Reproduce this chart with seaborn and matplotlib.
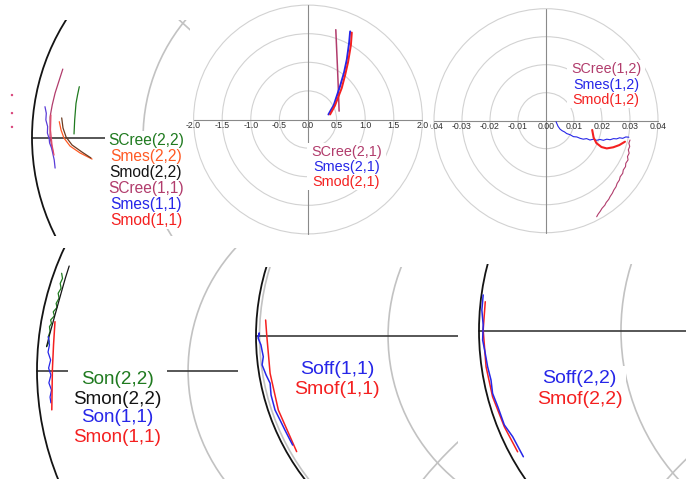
import matplotlib
matplotlib.use("Agg")
import matplotlib.pyplot as plt
from matplotlib.patches import Circle, Rectangle
import seaborn as sns

sns.set_style("white")
plt.rcParams["font.family"] = ["Liberation Sans", "DejaVu Sans"]

W, H = 686, 479

GREEN = "#1f7a1f"
ORANGE = "#ff5a24"
BLACK = "#141414"
MAROON = "#b13c6c"
BLUE = "#2626e8"
RED = "#f42020"
PINK = "#d9457a"
GRID = "#c2c2c2"
RING = "#d2d2d2"
AXIS = "#8a8a8a"

# ---------------- data (real / imaginary part of the S parameters) ----------------
# top left: S11, S22
scree22_re = [-0.785, -0.793, -0.800, -0.806, -0.809]
scree22_im = [0.231, 0.193, 0.155, 0.080, 0.016]
smes22_re = [-0.876, -0.868, -0.855, -0.827, -0.782, -0.727]
smes22_im = [0.072, 0.034, -0.002, -0.039, -0.070, -0.098]
smod22_re = [-0.865, -0.859, -0.845, -0.818, -0.773, -0.732]
smod22_im = [0.089, 0.043, 0.002, -0.034, -0.066, -0.093]
scree11_re = [-0.860, -0.878, -0.895, -0.908, -0.918, -0.918, -0.905]
scree11_im = [0.311, 0.255, 0.202, 0.148, 0.093, 0.002, -0.066]
smes11_re = [-0.941, -0.935, -0.937, -0.929, -0.930, -0.922, -0.920, -0.911, -0.906, -0.899, -0.895]
smes11_im = [0.140, 0.110, 0.080, 0.050, 0.020, -0.005, -0.025, -0.048, -0.070, -0.102, -0.139]
smod11_re = [-0.914, -0.916, -0.909, -0.900]
smod11_im = [0.102, 0.034, -0.034, -0.080]
stray_re = [-1.091, -1.091, -1.091]
stray_im = [0.193, 0.111, 0.048]

# top middle: S21
scree21_re = [0.486, 0.500, 0.514, 0.527, 0.537, 0.544]
scree21_im = [1.570, 1.250, 0.936, 0.620, 0.350, 0.146]
smes21_re = [0.357, 0.450, 0.561, 0.630, 0.679, 0.720, 0.737]
smes21_im = [0.088, 0.250, 0.585, 0.820, 1.050, 1.350, 1.540]
smod21_re = [0.386, 0.470, 0.590, 0.650, 0.700, 0.750, 0.766]
smod21_im = [0.088, 0.240, 0.550, 0.780, 1.000, 1.300, 1.520]
tm_rings = [0.5, 1.0, 1.5, 2.0]
tm_ticks = [-2.0, -1.5, -1.0, -0.5, 0.0, 0.5, 1.0, 1.5, 2.0]

# top right: S12
scree12_re = [0.0300, 0.0296, 0.0299, 0.0294, 0.0297, 0.0291, 0.0293, 0.0285, 0.0284,
              0.0276, 0.0274, 0.0265, 0.0262, 0.0254, 0.0250, 0.0242, 0.0237, 0.0229,
              0.0224, 0.0215, 0.0210, 0.0200, 0.0194, 0.0186, 0.0181]
scree12_im = [-0.0069, -0.0080, -0.0092, -0.0104, -0.0116, -0.0128, -0.0140, -0.0152,
              -0.0164, -0.0176, -0.0188, -0.0200, -0.0212, -0.0224, -0.0236, -0.0248,
              -0.0259, -0.0271, -0.0281, -0.0292, -0.0302, -0.0313, -0.0323, -0.0334, -0.0343]
smes12_re = [0.0036, 0.0043, 0.0050, 0.0058, 0.0066, 0.0074, 0.0086, 0.0098, 0.0110,
             0.0122, 0.0133, 0.0145, 0.0157, 0.0169, 0.0181, 0.0193, 0.0205, 0.0217,
             0.0229, 0.0241, 0.0252, 0.0263, 0.0274, 0.0285, 0.0296]
smes12_im = [-0.0004, -0.0020, -0.0030, -0.0036, -0.0040, -0.0046, -0.0050, -0.0057,
             -0.0058, -0.0063, -0.0066, -0.0064, -0.0069, -0.0066, -0.0070, -0.0067,
             -0.0070, -0.0066, -0.0068, -0.0064, -0.0065, -0.0061, -0.0063, -0.0058, -0.0059]
smod12_re = [0.0165, 0.0170, 0.0180, 0.0198, 0.0217, 0.0240, 0.0262, 0.0282]
smod12_im = [-0.0033, -0.0060, -0.0080, -0.0094, -0.0099, -0.0095, -0.0087, -0.0075]
tr_rings = [0.01, 0.02, 0.03, 0.04]
tr_ticks = [-0.04, -0.03, -0.02, -0.01, 0.00, 0.01, 0.02, 0.03, 0.04]

# bottom left: on state
son22_re = [-0.915, -0.912, -0.920, -0.917, -0.927, -0.924, -0.934, -0.931, -0.944,
            -0.940, -0.953, -0.950, -0.957, -0.955, -0.961, -0.958, -0.967]
son22_im = [0.336, 0.318, 0.301, 0.284, 0.267, 0.250, 0.232, 0.218, 0.203,
            0.189, 0.175, 0.163, 0.152, 0.135, 0.117, 0.100, 0.083]
smon22_re = [-0.889, -0.902, -0.914, -0.926, -0.938, -0.957, -0.967]
smon22_im = [0.361, 0.320, 0.278, 0.235, 0.192, 0.123, 0.083]
son11_re = [-0.961, -0.957, -0.962, -0.953, -0.960, -0.952, -0.959, -0.950, -0.955, -0.952]
son11_im = [0.117, 0.089, 0.064, 0.037, 0.009, -0.015, -0.042, -0.067, -0.091, -0.111]
smon11_re = [-0.938, -0.943, -0.947, -0.948, -0.949]
smon11_im = [0.169, 0.089, 0.002, -0.067, -0.135]

# bottom middle: off state, port 1
soff11_re = [-0.990, -0.986, -0.991, -0.979, -0.969, -0.974, -0.957, -0.940, -0.936,
             -0.919, -0.898, -0.877, -0.855, -0.844]
soff11_im = [-0.003, 0.013, -0.009, -0.038, -0.088, -0.123, -0.166, -0.201, -0.251,
             -0.315, -0.357, -0.400, -0.443, -0.464]
smof11_re = [-0.959, -0.954, -0.940, -0.905, -0.827]
smof11_im = [0.068, 0.000, -0.159, -0.315, -0.492]

# bottom right: off state, port 2
soff22_re = [-0.984, -0.989, -0.984, -0.986, -0.977, -0.967, -0.954, -0.948, -0.928,
             -0.903, -0.871, -0.830]
soff22_im = [0.137, 0.079, 0.022, -0.036, -0.082, -0.138, -0.189, -0.240, -0.291,
             -0.361, -0.406, -0.483]
smof22_re = [-0.976, -0.984, -0.973, -0.948, -0.903, -0.852]
smof22_im = [0.111, 0.003, -0.138, -0.253, -0.368, -0.464]

fig = plt.figure(figsize=(W / 100, H / 100), dpi=100)


def make_ax(box):
    x0, y0, x1, y1 = box
    ax = fig.add_axes([x0 / W, 1 - y1 / H, (x1 - x0) / W, (y1 - y0) / H])
    return ax


def frame(ax, box, center, scale):
    x0, y0, x1, y1 = box
    cx, cy = center
    ax.set_xlim((x0 - cx) / scale, (x1 - cx) / scale)
    ax.set_ylim((cy - y1) / scale, (cy - y0) / scale)
    ax.set_axis_off()


def trace(ax, re, im, color, lw=0.9):
    sns.lineplot(x=re, y=im, ax=ax, color=color, lw=lw, sort=False,
                 estimator=None, legend=False, zorder=3)


def frac(box, x, y):
    return (x - box[0]) / (box[2] - box[0]), (box[3] - y) / (box[3] - box[1])


def legend(ax, box, rect, labels, colors, x, y0, dy, size):
    fx0, fy1 = frac(box, rect[0], rect[1])
    fx1, fy0 = frac(box, rect[2], rect[3])
    ax.add_patch(Rectangle((fx0, fy0), fx1 - fx0, fy1 - fy0, transform=ax.transAxes,
                           fc="white", ec="none", zorder=5))
    for i, (lab, col) in enumerate(zip(labels, colors)):
        fx, fy = frac(box, x, y0 + i * dy)
        ax.text(fx, fy, lab, color=col, fontsize=size, ha="center", va="center",
                transform=ax.transAxes, zorder=6)


def smith_grid(ax, circles, reactances):
    for c, r in circles:
        ax.add_patch(Circle((c, 0), r, fill=False, ec=GRID, lw=1.2, zorder=1))
    for xr in reactances:
        ax.add_patch(Circle((1, 1 / xr), abs(1 / xr), fill=False, ec=GRID, lw=1.2, zorder=1))
    ax.plot([-1, 3], [0, 0], color="#3a3a3a", lw=1.2, zorder=2)
    ax.add_patch(Circle((0, 0), 1, fill=False, ec=BLACK, lw=1.3, zorder=2))


def polar_grid(ax, rings, ticks, fmt, clip=False):
    for r in rings:
        ax.add_patch(Circle((0, 0), r, fill=False, ec=RING, lw=0.8, zorder=1))
    rmax = rings[-1]
    ax.plot([-rmax, rmax], [0, 0], color=AXIS, lw=0.8, zorder=2)
    ax.plot([0, 0], [-rmax, rmax], color=AXIS, lw=0.8, zorder=2)
    for t in ticks:
        ax.annotate(fmt.format(t), (t, 0), xytext=(0, -4.2), textcoords="offset points",
                    ha="center", va="center", fontsize=6.3, color="#303030",
                    annotation_clip=False, clip_on=clip, zorder=4)


# ---- top left ----
box = (0, 20, 190, 236)
ax = make_ax(box)
smith_grid(ax, [(0.341, 0.836)], [0.52])
trace(ax, scree22_re, scree22_im, GREEN)
trace(ax, smes22_re, smes22_im, ORANGE)
trace(ax, smod22_re, smod22_im, "#6a3a20")
trace(ax, scree11_re, scree11_im, MAROON)
trace(ax, smes11_re, smes11_im, "#5a3cd8")
trace(ax, smod11_re, smod11_im, "#e04a6a")
sns.scatterplot(x=stray_re, y=stray_im, ax=ax, s=3, color=PINK, edgecolor="none", zorder=3)
legend(ax, box, (105, 131, 191, 229),
       ["SCree(2,2)", "Smes(2,2)", "Smod(2,2)", "SCree(1,1)", "Smes(1,1)", "Smod(1,1)"],
       [GREEN, ORANGE, BLACK, MAROON, BLUE, RED], 146, 140, 16.1, 11.2)
frame(ax, box, (252, 137.5), 220)

# ---- top middle ----
box = (186, 0, 430, 240)
ax = make_ax(box)
polar_grid(ax, tm_rings, tm_ticks, "{:.1f}")
trace(ax, scree21_re, scree21_im, MAROON, 1.1)
trace(ax, smes21_re, smes21_im, BLUE, 1.4)
trace(ax, smod21_re, smod21_im, RED, 1.4)
legend(ax, box, (307, 143, 386, 190), ["SCree(2,1)", "Smes(2,1)", "Smod(2,1)"],
       [MAROON, BLUE, RED], 346.5, 151.7, 15, 10.4)
frame(ax, box, (308, 119.5), 57.2)

# ---- top right (left edge label partly hidden, as in the original) ----
box = (430, 0, 686, 240)
ax = make_ax(box)
polar_grid(ax, tr_rings, tr_ticks, "{:.2f}", clip=True)
trace(ax, smes12_re, smes12_im, BLUE, 0.8)
trace(ax, scree12_re, scree12_im, MAROON, 0.8)
trace(ax, smod12_re, smod12_im, RED, 1.5)
legend(ax, box, (567, 60, 645, 108), ["SCree(1,2)", "Smes(1,2)", "Smod(1,2)"],
       [MAROON, BLUE, RED], 606, 69, 15.5, 10.3)
frame(ax, box, (546, 120.7), 2800)

# ---- bottom left ----
box = (0, 248, 238, 479)
ax = make_ax(box)
smith_grid(ax, [(0.15, 0.629)], [])
trace(ax, son22_re, son22_im, GREEN)
trace(ax, smon22_re, smon22_im, BLACK)
trace(ax, son11_re, son11_im, BLUE)
trace(ax, smon11_re, smon11_im, RED, 1.1)
legend(ax, box, (68, 367, 167, 448), ["Son(2,2)", "Smon(2,2)", "Son(1,1)", "Smon(1,1)"],
       [GREEN, BLACK, BLUE, RED], 117.5, 380, 19, 13.6)
frame(ax, box, (327, 370.7), 290)

# ---- bottom middle ----
box = (238, 267, 458, 479)
ax = make_ax(box)
smith_grid(ax, [(0.0075, 0.9925), (0.36, 0.798)], [-0.6])
trace(ax, smof11_re, smof11_im, RED, 1.1)
trace(ax, soff11_re, soff11_im, BLUE, 1.1)
legend(ax, box, (292, 357, 382, 402), ["Soff(1,1)", "Smof(1,1)"],
       [BLUE, RED], 337, 369.5, 20.5, 14)
frame(ax, box, (491, 336), 235)

# ---- bottom right ----
box = (458, 264, 686, 479)
ax = make_ax(box)
smith_grid(ax, [(0.391, 0.847)], [-0.58])
trace(ax, smof22_re, smof22_im, RED, 1.1)
trace(ax, soff22_re, soff22_im, BLUE, 1.1)
legend(ax, box, (533, 366, 626, 411), ["Soff(2,2)", "Smof(2,2)"],
       [BLUE, RED], 579.5, 378.5, 21, 14)
frame(ax, box, (740, 330.7), 261)

fig.savefig("out.png", dpi=100)
